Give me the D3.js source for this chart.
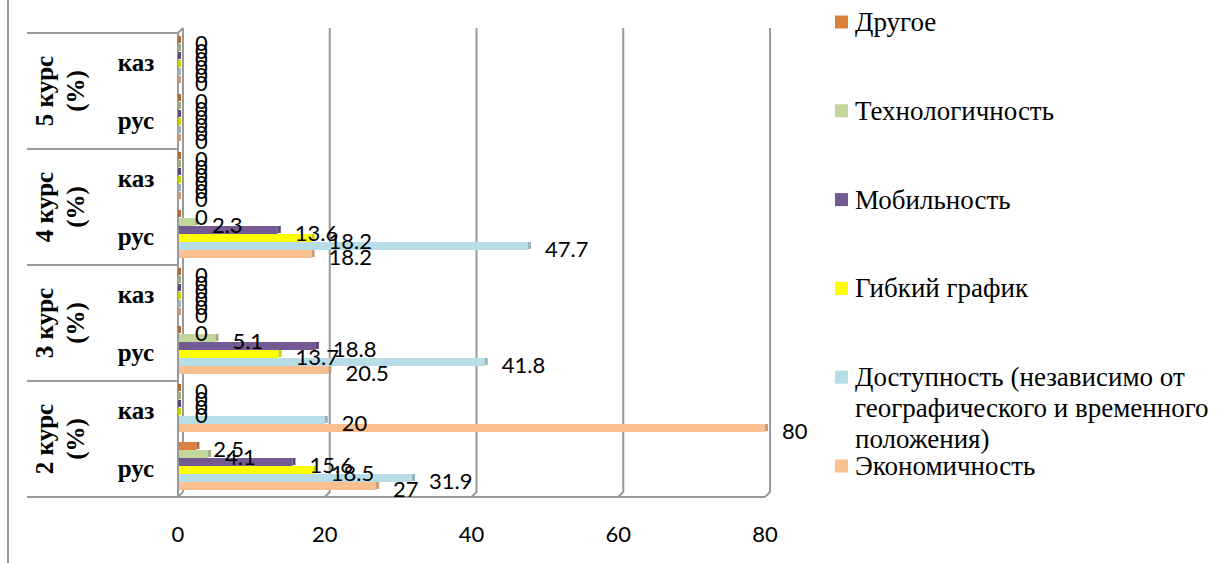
<!DOCTYPE html>
<html><head><meta charset="utf-8">
<script src="https://cdn.jsdelivr.net/npm/d3@7"></script>
<style>
html,body{margin:0;padding:0;background:#fff;}
svg{display:block;}
</style></head>
<body>
<svg id="chart" width="1223" height="563"></svg>
<script>
// ---- data ----
const courses = ["2 курс", "3 курс", "4 курс", "5 курс"];
const langs = ["рус", "каз"];
const seriesNames = ["Экономичность", "Доступность (независимо от географического и временного положения)", "Гибкий график", "Мобильность", "Технологичность", "Другое"];
const seriesLegendLines = [["Экономичность"], ["Доступность (независимо от", "географического и временного", "положения)"], ["Гибкий график"], ["Мобильность"], ["Технологичность"], ["Другое"]];
const seriesColors = ["#FAC090", "#B7DEE8", "#FFFF00", "#735A93", "#C3D69B", "#DB8140"];
// category order: 2 рус, 2 каз, 3 рус, 3 каз, 4 рус, 4 каз, 5 рус, 5 каз
const economy  = [27, 80, 20.5, 0, 18.2, 0, 0, 0];
const access   = [31.9, 20, 41.8, 0, 47.7, 0, 0, 0];
const flexible = [18.5, 0, 13.7, 0, 18.2, 0, 0, 0];
const mobility = [15.6, 0, 18.8, 0, 13.6, 0, 0, 0];
const tech     = [4.1, 0, 5.1, 0, 2.3, 0, 0, 0];
const other    = [2.5, 0, 0, 0, 0, 0, 0, 0];
const seriesValues = [economy, access, flexible, mobility, tech, other];
const xTicks = [0, 20, 40, 60, 80];

// ---- layout ----
const SERIF = '"Liberation Serif", "Times New Roman", serif';
const NUM = 'Lato, "Open Sans", sans-serif';
const svg = d3.select("#chart");
const X0 = 178, X1 = 765, YT = 33, YB = 497, D = 5; // depth offset
const x = d3.scaleLinear().domain([0, 80]).range([X0, X1]);
const cats = [];
courses.forEach(c => langs.forEach(l => cats.push(c + "|" + l)));
const y = d3.scaleBand().domain(cats.slice().reverse()).range([YT, YB]);
const inner = d3.scaleBand().domain(d3.range(6).reverse()).range([3, 51]);
const grid = "#999999";

// left frame line
svg.append("line").attr("x1", 8).attr("x2", 8).attr("y1", 0).attr("y2", 563)
  .attr("stroke", grid).attr("stroke-width", 2);

// category table lines
const groupEdges = [YT].concat(courses.map(c => y(c + "|" + langs[0]) + y.bandwidth()));
groupEdges.forEach(v => {
  svg.append("line").attr("x1", 27).attr("x2", X0).attr("y1", v).attr("y2", v)
    .attr("stroke", grid).attr("stroke-width", 2);
});

// wall
const g = svg.append("g");
g.append("line").attr("x1", X0).attr("x2", X0).attr("y1", YT).attr("y2", YB).attr("stroke", grid).attr("stroke-width", 2);
g.append("line").attr("x1", X0 + D).attr("x2", X0 + D).attr("y1", YT - D).attr("y2", YB - D).attr("stroke", grid).attr("stroke-width", 2);
g.append("line").attr("x1", X0).attr("x2", X0 + D).attr("y1", YT).attr("y2", YT - D).attr("stroke", grid).attr("stroke-width", 2);

// gridlines
xTicks.filter(t => t > 0).forEach(t => {
  g.append("path")
    .attr("d", `M${x(t) + D},${YT - D}L${x(t) + D},${YB - D}L${x(t)},${YB}`)
    .attr("fill", "none").attr("stroke", grid).attr("stroke-width", 2);
});
// floor front line
g.append("path").attr("d", `M${X0 + D},${YB - D}L${X0},${YB}L${x(80)},${YB}`)
  .attr("fill", "none").attr("stroke", grid).attr("stroke-width", 2);

// bars
const bars = svg.append("g");
const labels = svg.append("g");
cats.forEach((cat, ci) => {
  seriesValues.forEach((vals, si) => {
    const v = vals[ci];
    const by = y(cat) + inner(si);
    const bh = inner.bandwidth();
    const xe = x(v);
    const col = seriesColors[si];
    if (v > 0) {
      bars.append("rect").attr("x", X0 + 1).attr("y", by).attr("width", xe - X0 - 1).attr("height", bh)
        .attr("fill", col);
    }
    // end face
    bars.append("rect").attr("x", xe).attr("y", by).attr("width", 3).attr("height", bh - 1)
      .attr("fill", d3.color(col).darker(0.6));
    labels.append("text").attr("x", xe + 17).attr("y", by + bh / 2 + 2)
      .attr("dominant-baseline", "central")
      .style("font-family", NUM).style("font-size", "22px")
      .attr("fill", "#000").text(String(v));
  });
});

// x tick labels
xTicks.forEach(t => {
  svg.append("text").attr("x", x(t)).attr("y", 533).attr("text-anchor", "middle")
    .attr("dominant-baseline", "central")
    .style("font-family", NUM).style("font-size", "22px").text(t);
});

// category labels
cats.forEach(cat => {
  const l = cat.split("|")[1];
  svg.append("text").attr("x", 136).attr("y", y(cat) + y.bandwidth() / 2)
    .attr("text-anchor", "middle").attr("dominant-baseline", "central")
    .style("font-family", SERIF).style("font-weight", "bold").style("font-size", "25px").text(l);
});
courses.forEach(c => {
  const cy = (y(c + "|рус") + y.bandwidth() + y(c + "|каз")) / 2;
  const t = svg.append("text").attr("transform", `translate(60,${cy}) rotate(-90)`)
    .attr("text-anchor", "middle")
    .style("font-family", SERIF).style("font-weight", "bold").style("font-size", "25px");
  t.append("tspan").attr("x", 0).attr("dy", "-0.3em").text(c);
  t.append("tspan").attr("x", 0).attr("dy", "1.25em").text("(%)");
});

// legend
const lg = svg.append("g");
const legOrder = d3.range(6).reverse();
legOrder.forEach((si, k) => {
  const cy = 22 + k * 88.8;
  lg.append("rect").attr("x", 835).attr("y", cy - 6.5).attr("width", 13).attr("height", 13)
    .attr("fill", seriesColors[si]);
  const t = lg.append("text").attr("x", 855).attr("y", cy)
    .attr("dominant-baseline", "central")
    .style("font-family", SERIF).style("font-size", "27px");
  seriesLegendLines[si].forEach((line, li) => {
    t.append("tspan").attr("x", 855).attr("dy", li === 0 ? 0 : 31).text(line);
  });
});
</script>
</body></html>
